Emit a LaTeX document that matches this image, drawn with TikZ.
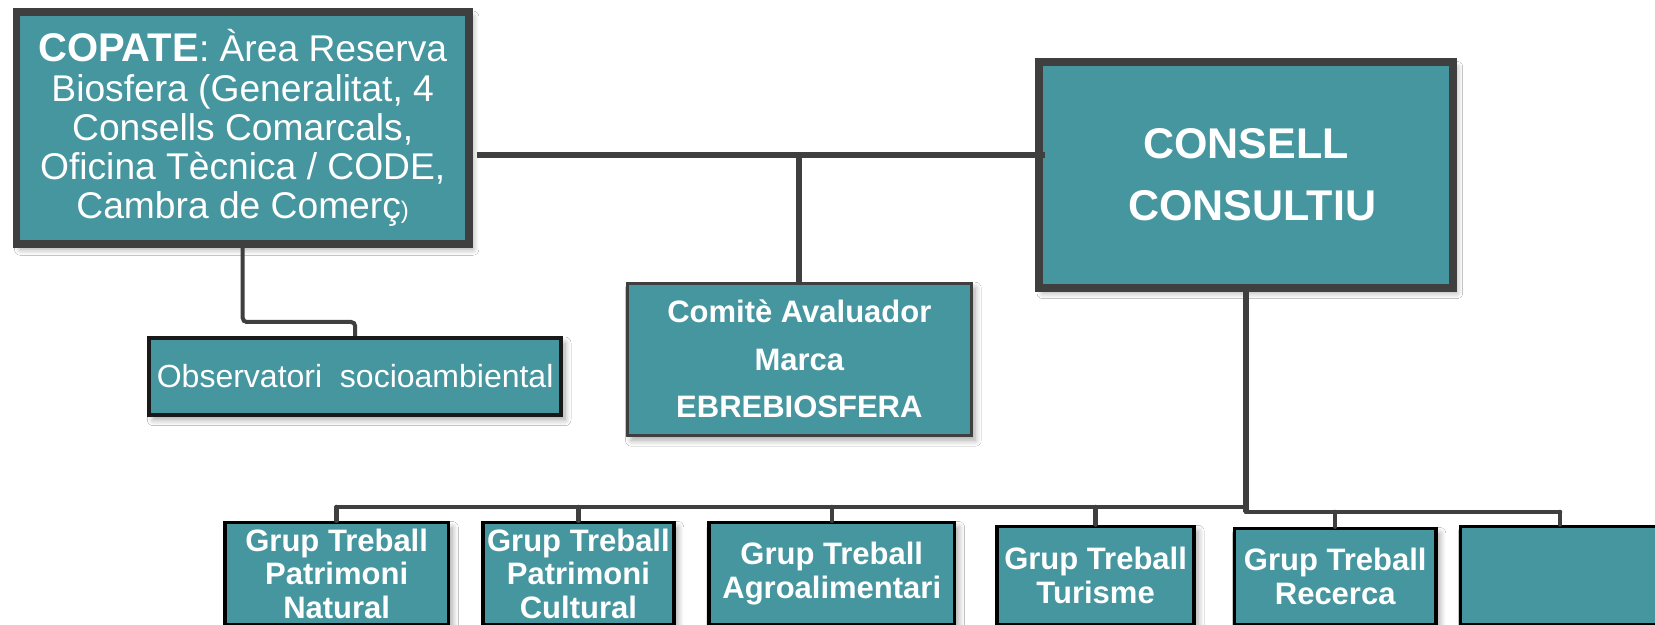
\documentclass[tikz,border=0pt]{standalone}
\usepackage{fontspec}
\setmainfont{Liberation Sans}
\usetikzlibrary{shadows.blur}
\definecolor{tealfill}{HTML}{4696A0}
\definecolor{bord}{HTML}{3F3F3F}
\begin{document}
\begin{tikzpicture}[x=0.5pt,y=-0.5pt,
  sh/.style={blur shadow={shadow xshift=2pt,shadow yshift=-2.5pt,shadow blur steps=8,shadow opacity=35,shadow blur radius=3pt}},
  box/.style={fill=tealfill, text=white, align=center, inner sep=0pt, sh},
  bigbox/.style={box, draw=bord, line width=3.75pt},
  gbox/.style={box, draw=black, line width=1.75pt, font=\bfseries\fontsize{15.5}{16.75}\selectfont},
  conn/.style={draw=bord, line width=3pt},
  bus/.style={draw=bord, line width=2.25pt, line cap=round, line join=round}]
\useasboundingbox (0,0) rectangle (1655,625);
\clip (0,0) rectangle (1655,625);
\fill[white] (0,0) rectangle (1655,625);

\coordinate (h) at (0,155);
\coordinate (o1) at (0,322);
\coordinate (busL) at (0,507);
\coordinate (busR) at (0,512);

\node[bigbox, minimum width=226.25pt, minimum height=116.1pt, font=\fontsize{18.6}{19.6}\selectfont] (copate) at (242.7,128.15)
 {{\fontsize{20}{19.6}\selectfont\bfseries COPATE}: Àrea Reserva\\Biosfera (Generalitat, 4\\Consells Comarcals,\\Oficina Tècnica / CODE,\\Cambra de Comerç{\fontsize{12}{12}\selectfont)}};

\node[bigbox, line width=4pt, minimum width=206.85pt, minimum height=112.7pt, font=\bfseries\fontsize{21.5}{30.85}\selectfont] (consell) at (1245.85,175) {CONSELL\\\hspace*{6.4pt}CONSULTIU};

\node[box, draw=bord, line width=1.5pt, minimum width=171.85pt, minimum height=76pt, font=\bfseries\fontsize{15.5}{23.75}\selectfont] (comite) at (799.35,359.2) {Comitè Avaluador\\Marca\\EBREBIOSFERA};

\node[box, draw=black!90, line width=2pt, minimum width=205.85pt, minimum height=38.35pt, font=\fontsize{16}{19}\selectfont] (obs) at (355.15,376.35) {Observatori~~socioambiental};

\node[gbox, minimum width=111.65pt, minimum height=51pt] (g1) at (336.65,573.5) {Grup Treball\\Patrimoni\\Natural};
\node[gbox, minimum width=95.4pt, minimum height=51pt] (g2) at (578.4,573.5) {Grup Treball\\Patrimoni\\Cultural};
\node[gbox, minimum width=122.8pt, minimum height=51pt] (g3) at (831.75,573.5) {Grup Treball\\Agroalimentari};
\node[gbox, minimum width=98.55pt, minimum height=49.07pt] (g4) at (1095.6,575.4) {Grup Treball\\Turisme};
\node[gbox, minimum width=100.65pt, minimum height=48pt] (g5) at (1335.2,576.5) {Grup Treball\\Recerca};
\node[gbox, minimum width=99.55pt, minimum height=49.07pt] (g6) at (1560,575.4) {};

\draw[conn, shorten <=2pt, shorten >=-5pt] (copate.east |- h) -- (consell.west |- h);
\draw[conn] (comite.north) -- (comite.north |- h);
\draw[conn, line width=2pt, rounded corners=2pt] (copate.south) -- (copate.south |- o1) -- (obs.north |- o1) -- (obs.north);
\draw[conn] (consell.south) -- (consell.south |- busR);
\draw[bus] (g1.north |- busL) -- (consell.south |- busL);
\draw[bus] (consell.south |- busR) -- (g6.north |- busR);
\draw[bus] (g1.north) -- (g1.north |- busL);
\draw[bus] (g2.north) -- (g2.north |- busL);
\draw[bus] (g3.north) -- (g3.north |- busL);
\draw[bus] (g4.north) -- (g4.north |- busL);
\draw[bus] (g5.north) -- (g5.north |- busR);
\draw[bus] (g6.north) -- (g6.north |- busR);
\end{tikzpicture}
\end{document}
